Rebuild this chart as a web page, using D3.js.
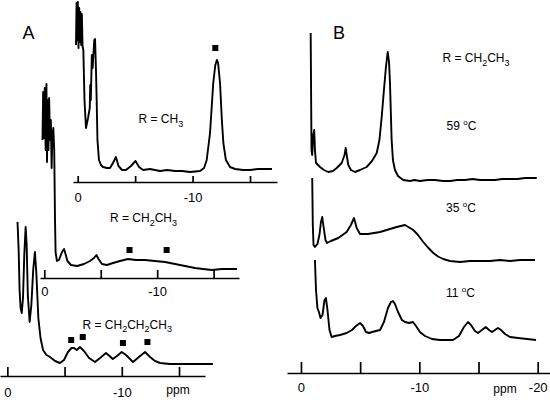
<!DOCTYPE html>
<html>
<head>
<meta charset="utf-8">
<script src="https://cdn.jsdelivr.net/npm/d3@7"></script>
<style>
  body { margin: 0; background: #fff; }
  svg { display: block; font-family: "Liberation Sans", Arial, sans-serif; }
  .trace { fill: none; stroke: #000; stroke-width: 1.9; stroke-linejoin: round; }
  .axis path, .axis line { stroke: #000; stroke-width: 1.7; }
  .axis text { font-family: "Liberation Sans", Arial, sans-serif; font-size: 13px; fill: #000; }
  .lbl { font-size: 12px; fill: #000; }
  .panel { font-size: 18px; fill: #000; }
</style>
</head>
<body>
<div id="chart"></div>
<script>
// tick values (ppm) and which ones carry a label
const ticksA = [0, -5, -10, -15];
const ticksB = [0, -5, -10, -15, -20];
const labelsA = [0, -10];
const labelsB = [0, -10, -20];

// spectra, [ppm, intensity] (intensity in arbitrary units)
const specMethyl = [[0.15,1.25],[0.10,1.67],[0.04,1.30],[-0.01,1.68],[-0.07,1.22],[-0.13,1.62],[-0.18,1.28],[-0.24,1.58],[-0.30,1.25],[-0.36,1.56],[-0.42,1.24],[-0.49,1.20],[-0.59,0.70],[-0.72,0.42],[-0.90,0.52],[-1.05,0.62],[-1.09,0.85],[-1.14,0.70],[-1.23,1.15],[-1.30,1.02],[-1.44,1.30],[-1.51,1.31],[-1.59,1.00],[-1.65,0.70],[-1.72,0.30],[-1.85,0.10],[-2.03,0.05],[-2.20,0.03],[-2.55,0.02],[-2.81,0.02],[-3.07,0.07],[-3.33,0.13],[-3.55,0.04],[-3.86,0],[-4.20,0],[-4.64,0.04],[-5.03,0.09],[-5.34,0.03],[-5.69,0],[-6.29,0.01],[-7.16,-0.01],[-7.80,0],[-8.47,-0.01],[-9.10,-0.01],[-9.77,-0.02],[-10.65,-0.01],[-11.00,0.02],[-11.23,0.10],[-11.52,0.37],[-11.80,0.87],[-11.98,1.05],[-12.12,1.10],[-12.22,1.07],[-12.39,0.87],[-12.55,0.50],[-12.68,0.27],[-12.90,0.10],[-13.26,0.03],[-13.70,0.01],[-14.40,0],[-15.00,0],[-15.70,0.01],[-16.30,0.01],[-16.91,0.01]];
const specEthyl = [[0.16,1.29],[0.10,1.77],[0.03,1.31],[-0.04,1.81],[-0.12,1.19],[-0.19,1.85],[-0.24,1.07],[-0.31,1.69],[-0.37,1.19],[-0.43,1.71],[-0.50,1.29],[-0.58,1.49],[-0.65,1.01],[-0.72,1.34],[-0.80,1.41],[-0.88,1.19],[-0.95,0.49],[-1.00,0.17],[-1.12,0.08],[-1.30,0.09],[-1.57,0.17],[-1.75,0.20],[-1.88,0.15],[-2.05,0.08],[-2.36,0.04],[-2.90,0.03],[-3.52,0.05],[-4.05,0.08],[-4.40,0.11],[-4.62,0.14],[-4.80,0.10],[-5.11,0.05],[-5.55,0.04],[-6.09,0.06],[-6.71,0.08],[-7.41,0.10],[-8.12,0.09],[-8.92,0.09],[-9.80,0.08],[-10.69,0.07],[-11.58,0.05],[-12.46,0.03],[-13.35,0.01],[-14.06,0],[-14.85,-0.01],[-15.74,0],[-16.45,0],[-17.07,0]];
const specPropyl = [[-0.89,1.42],[-0.99,1.14],[-1.07,0.74],[-1.16,0.56],[-1.26,0.51],[-1.37,0.66],[-1.48,1.09],[-1.60,1.37],[-1.69,1.19],[-1.79,0.69],[-1.95,0.42],[-2.10,0.59],[-2.26,0.94],[-2.41,1.12],[-2.53,0.92],[-2.71,0.46],[-2.90,0.26],[-3.12,0.14],[-3.42,0.09],[-3.73,0.07],[-4.17,0.03],[-4.60,0.01],[-4.95,0.04],[-5.30,0.12],[-5.61,0.16],[-5.83,0.16],[-6.06,0.14],[-6.35,0.17],[-6.70,0.13],[-7.14,0.06],[-7.66,0.02],[-8.10,0.06],[-8.62,0.11],[-8.93,0.08],[-9.21,0.05],[-9.58,0.08],[-9.99,0.12],[-10.37,0.09],[-10.98,0.02],[-11.50,0.07],[-12.03,0.12],[-12.47,0.07],[-12.90,0.03],[-13.34,0.01],[-14.21,0],[-15.52,0],[-16.83,0],[-17.96,0]];
const spec59 = [[-0.82,1.47],[-0.89,0.30],[-0.95,0.25],[-1.04,0.45],[-1.12,0.50],[-1.18,0.30],[-1.27,0.17],[-1.61,0.13],[-1.94,0.10],[-2.31,0.08],[-2.70,0.09],[-3.02,0.12],[-3.44,0.17],[-3.68,0.25],[-3.78,0.32],[-3.89,0.23],[-4.00,0.15],[-4.22,0.10],[-4.56,0.08],[-4.99,0.10],[-5.55,0.13],[-6.00,0.19],[-6.40,0.27],[-6.63,0.40],[-6.82,0.63],[-7.01,0.90],[-7.18,1.13],[-7.33,1.28],[-7.44,1.18],[-7.52,0.97],[-7.66,0.40],[-7.77,0.20],[-7.94,0.10],[-8.20,0.04],[-8.64,0],[-9.21,-0.01],[-9.60,0],[-10.05,-0.01],[-10.70,0],[-11.32,0],[-12.00,-0.01],[-12.59,-0.01],[-13.20,0],[-13.86,0],[-14.50,0.01],[-15.12,0],[-15.80,0],[-16.39,0],[-17.00,0.01],[-17.66,0.01],[-18.30,0.01],[-18.93,0.02],[-19.92,0.02]];
const spec35 = [[-0.95,0.83],[-1.00,0.36],[-1.06,0.16],[-1.18,0.14],[-1.39,0.17],[-1.56,0.26],[-1.69,0.39],[-1.80,0.44],[-1.90,0.35],[-2.07,0.21],[-2.20,0.18],[-2.53,0.20],[-3.15,0.23],[-3.86,0.29],[-4.22,0.36],[-4.48,0.43],[-4.71,0.33],[-4.99,0.27],[-5.66,0.27],[-6.68,0.29],[-7.52,0.32],[-8.09,0.34],[-8.79,0.36],[-9.49,0.31],[-9.89,0.26],[-10.33,0.19],[-10.73,0.135],[-11.18,0.08],[-11.58,0.045],[-12.02,0.02],[-12.59,0],[-13.43,-0.01],[-14.28,0],[-15.12,0],[-15.97,0],[-16.81,0.01],[-17.66,0],[-18.51,0.01],[-19.77,0.01]];
const spec11 = [[-1.18,0.80],[-1.27,0.50],[-1.39,0.32],[-1.52,0.28],[-1.65,0.22],[-1.82,0.25],[-1.99,0.40],[-2.11,0.42],[-2.24,0.30],[-2.41,0.10],[-2.59,0.03],[-2.87,0.04],[-3.30,0.05],[-3.86,0.07],[-4.31,0.10],[-4.65,0.14],[-4.99,0.17],[-5.24,0.14],[-5.49,0.08],[-5.75,0.07],[-6.00,0.08],[-6.34,0.09],[-6.68,0.10],[-7.01,0.18],[-7.35,0.32],[-7.60,0.38],[-7.77,0.39],[-7.94,0.36],[-8.20,0.28],[-8.53,0.20],[-8.79,0.18],[-9.13,0.17],[-9.46,0.18],[-9.72,0.14],[-10.05,0.08],[-10.48,0.04],[-11.07,0.01],[-11.74,0],[-12.34,0],[-12.84,0],[-13.35,0.04],[-13.77,0.13],[-14.11,0.18],[-14.36,0.15],[-14.70,0.09],[-14.96,0.07],[-15.29,0.10],[-15.61,0.13],[-15.89,0.10],[-16.14,0.08],[-16.39,0.10],[-16.65,0.12],[-16.90,0.10],[-17.24,0.06],[-17.66,0.03],[-18.34,0.02],[-19.10,0.01],[-19.86,0]];

// square markers [ppm, intensity]
const markMethyl = [[-11.98, 1.22]];
const markEthyl = [[-7.55, 0.19], [-10.84, 0.19]];
const markPropyl = [[-5.58, 0.24], [-6.59, 0.27], [-10.10, 0.21], [-12.24, 0.22]];

const width = 550, height = 400;
const svg = d3.select("#chart").append("svg")
    .attr("width", width).attr("height", height)
    .attr("viewBox", `0 0 ${width} ${height}`);

// layout of the three A traces and the B panel (axis span in ppm → px)
const axesLayout = [
    { dom: [0.41, -17.35], rng: [73, 277], axisY: 182, tick: 6, pad: 11, ticks: ticksA, labels: labelsA },
    { dom: [0.38, -17.25], rng: [40, 239], axisY: 278, tick: 8, pad: 9, ticks: ticksA, labels: labelsA },
    { dom: [0.64, -17.27], rng: [0, 205], axisY: 376, tick: 9, pad: 12, ticks: ticksA, labels: labelsA },
    { dom: [1.18, -21.04], rng: [287, 550], axisY: 373, tick: 11, pad: 10, ticks: ticksB, labels: labelsB }
];
const xs = axesLayout.map(a => d3.scaleLinear().domain(a.dom).range(a.rng));

const traces = [
    { data: specMethyl, marks: markMethyl, ax: 0, base: 170 },
    { data: specEthyl, marks: markEthyl, ax: 1, base: 269 },
    { data: specPropyl, marks: markPropyl, ax: 2, base: 364 },
    { data: spec59, marks: [], ax: 3, base: 180 },
    { data: spec35, marks: [], ax: 3, base: 261 },
    { data: spec11, marks: [], ax: 3, base: 340 }
];

// axes
axesLayout.forEach((a, i) => {
    const axis = d3.axisBottom(xs[i])
        .tickValues(a.ticks)
        .tickSizeInner(-a.tick)
        .tickSizeOuter(0)
        .tickPadding(a.pad)
        .tickFormat(d => a.labels.includes(d) ? String(d) : "");
    svg.append("g")
        .attr("class", "axis")
        .attr("transform", `translate(0,${a.axisY})`)
        .call(axis);
});

// spectra + markers
traces.forEach(t => {
    const x = xs[t.ax];
    const y = d3.scaleLinear().domain([0, 1]).range([t.base, t.base - 100]);
    const line = d3.line().x(d => x(d[0])).y(d => y(d[1]));
    svg.append("path").datum(t.data).attr("class", "trace").attr("d", line);
    svg.selectAll(null)
        .data(t.marks)
        .enter()
        .append("rect")
        .attr("x", d => x(d[0]) - 3)
        .attr("y", d => y(d[1]) - 3)
        .attr("width", 6)
        .attr("height", 6)
        .attr("fill", "#000");
});

// labels
function formula(x, y, f) {
    const t = svg.append("text").attr("class", "lbl").attr("x", x).attr("y", y);
    t.append("tspan").text("R = ");
    let sub = false;
    f.split(/(\d)/).filter(s => s).forEach(s => {
        const isNum = /\d/.test(s);
        const sp = t.append("tspan").text(s);
        if (isNum) { sp.attr("dy", 3.5).attr("font-size", 9); sub = true; }
        else if (sub) { sp.attr("dy", -3.5); sub = false; }
    });
}
function temp(x, y, v) {
    const t = svg.append("text").attr("class", "lbl").attr("x", x).attr("y", y);
    t.append("tspan").text(v + " ");
    t.append("tspan").attr("dy", -5).attr("font-size", 8).text("o");
    t.append("tspan").attr("dy", 5).text("C");
}

svg.append("text").attr("class", "panel").attr("x", 22.5).attr("y", 38.5).text("A");
svg.append("text").attr("class", "panel").attr("x", 333).attr("y", 38.5).text("B");

formula(138.5, 123, "CH3");
formula(110, 222, "CH2CH3");
formula(82.5, 328.5, "CH2CH2CH3");
formula(442.5, 62, "CH2CH3");

temp(446.5, 130, 59);
temp(446, 211.5, 35);
temp(446, 297, 11);

svg.append("text").attr("class", "lbl").attr("x", 178).attr("y", 394).attr("text-anchor", "middle").text("ppm");
svg.append("text").attr("class", "lbl").attr("x", 505).attr("y", 392.5).attr("text-anchor", "middle").text("ppm");
</script>
</body>
</html>
